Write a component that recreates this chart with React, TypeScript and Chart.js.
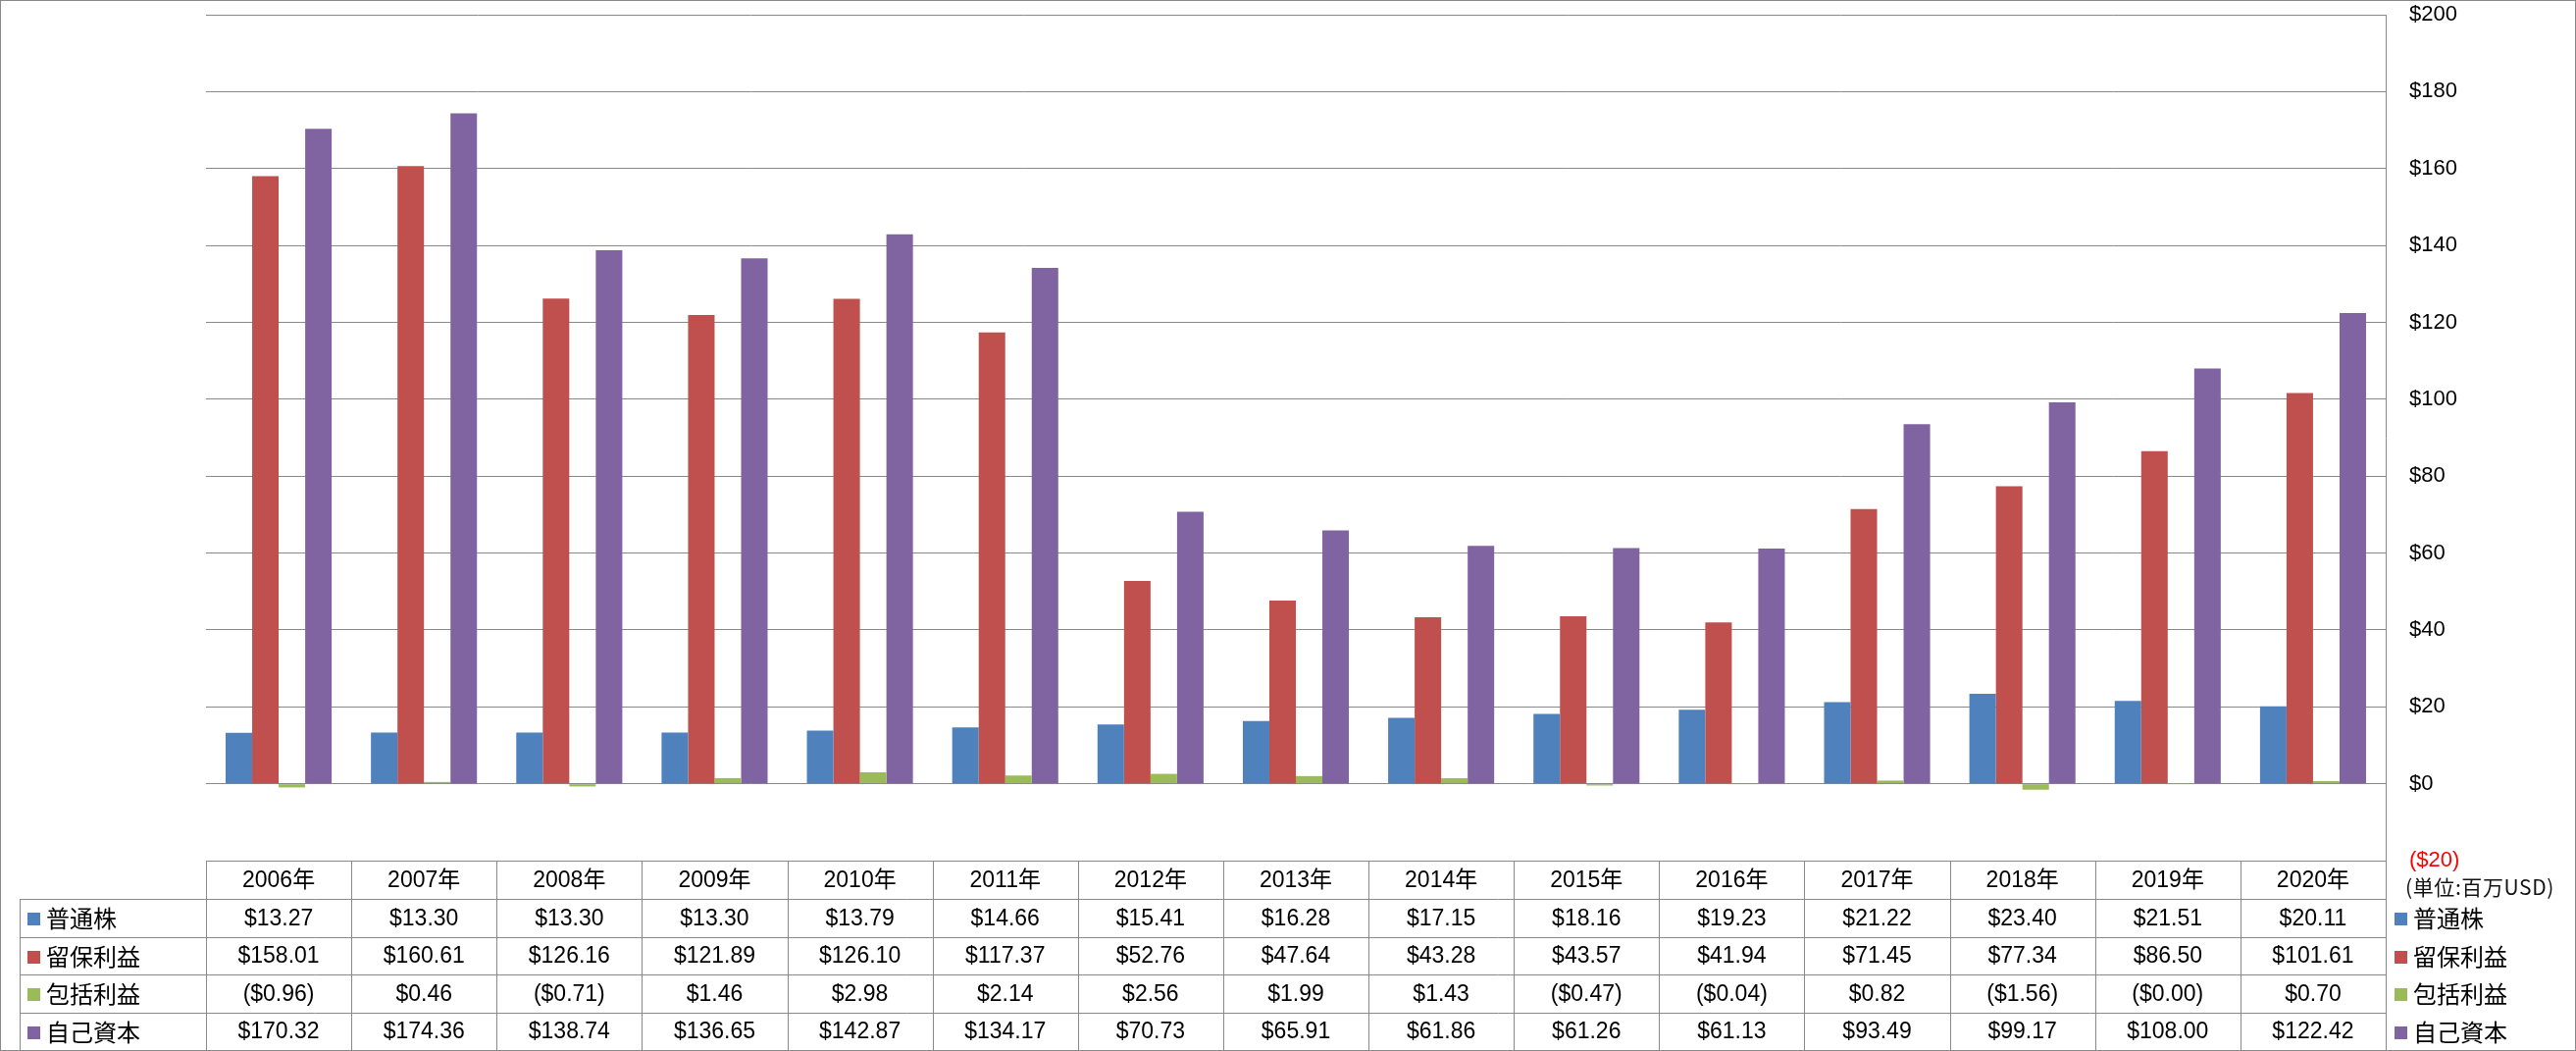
import React, { useEffect, useRef } from "react";
import { Chart, registerables } from "chart.js";

Chart.register(...registerables);

const W = 2626;
const H = 1071;

const years = ["2006年", "2007年", "2008年", "2009年", "2010年", "2011年", "2012年", "2013年", "2014年", "2015年", "2016年", "2017年", "2018年", "2019年", "2020年"];
const seriesNames = ["普通株", "留保利益", "包括利益", "自己資本"];
const seriesColors = ["#4F81BD", "#C0504D", "#9BBB59", "#8064A2"];

const commonStock = [13.27, 13.30, 13.30, 13.30, 13.79, 14.66, 15.41, 16.28, 17.15, 18.16, 19.23, 21.22, 23.40, 21.51, 20.11];
const retainedEarnings = [158.01, 160.61, 126.16, 121.89, 126.10, 117.37, 52.76, 47.64, 43.28, 43.57, 41.94, 71.45, 77.34, 86.50, 101.61];
const comprehensiveIncome = [-0.96, 0.46, -0.71, 1.46, 2.98, 2.14, 2.56, 1.99, 1.43, -0.47, -0.04, 0.82, -1.56, -0.004, 0.70];
const equity = [170.32, 174.36, 138.74, 136.65, 142.87, 134.17, 70.73, 65.91, 61.86, 61.26, 61.13, 93.49, 99.17, 108.00, 122.42];

const yMin = -20;
const yMax = 200;
const yStep = 20;
const unitLabel = "(単位:百万USD)";

const seriesValues = [commonStock, retainedEarnings, comprehensiveIncome, equity];

const GRID = "#898989";
const NUM_FONT = "'Liberation Sans', 'Noto Sans CJK JP', sans-serif";
const JP_FONT = "'Noto Sans CJK JP', 'Liberation Sans', sans-serif";

function fmtMoney(v: number): string {
  const s = Math.abs(v).toFixed(2);
  return v < 0 ? `($${s})` : `$${s}`;
}

const tablePlugin = {
  id: "dataTable",
  afterDraw(chart: any) {
    const ctx: CanvasRenderingContext2D = chart.ctx;
    const area = chart.chartArea;
    const n = years.length;
    const colW = (area.right - area.left) / n;
    const top = Math.round(area.bottom);
    const headerBottom = top + 39;
    const bottom = H - 1;
    const rowH = (bottom - headerBottom) / 4;
    const legendLeft = 20;
    const px = (v: number) => Math.round(v) + 0.5;

    ctx.save();
    ctx.strokeStyle = GRID;
    ctx.lineWidth = 1;
    ctx.beginPath();
    ctx.moveTo(area.left, px(top));
    ctx.lineTo(area.right, px(top));
    for (let r = 0; r < 4; r++) {
      const y = px(headerBottom + r * rowH);
      ctx.moveTo(legendLeft, y);
      ctx.lineTo(area.right, y);
    }
    for (let i = 0; i <= n; i++) {
      const x = px(area.left + i * colW);
      ctx.moveTo(x, top);
      ctx.lineTo(x, bottom);
    }
    ctx.moveTo(px(legendLeft), headerBottom);
    ctx.lineTo(px(legendLeft), bottom);
    ctx.stroke();

    ctx.strokeRect(0.5, 0.5, W - 1, H - 1);

    ctx.textBaseline = "middle";
    ctx.textAlign = "center";
    ctx.fillStyle = "#000";
    ctx.font = `23px ${NUM_FONT}`;
    for (let i = 0; i < n; i++) {
      const cx = area.left + (i + 0.5) * colW;
      ctx.fillText(years[i], cx, (top + headerBottom) / 2 + 1);
    }
    for (let r = 0; r < 4; r++) {
      const cy = headerBottom + (r + 0.5) * rowH + 1;
      for (let i = 0; i < n; i++) {
        const cx = area.left + (i + 0.5) * colW;
        ctx.fillText(fmtMoney(seriesValues[r][i]), cx, cy);
      }
    }

    ctx.textAlign = "left";
    ctx.font = `24px ${JP_FONT}`;
    for (let r = 0; r < 4; r++) {
      const cy = headerBottom + (r + 0.5) * rowH + 1;
      ctx.fillStyle = seriesColors[r];
      ctx.fillRect(28, Math.round(cy - 6), 13, 13);
      ctx.fillRect(2441, Math.round(cy - 6), 13, 13);
      ctx.fillStyle = "#000";
      ctx.fillText(seriesNames[r], 47, cy);
      ctx.fillText(seriesNames[r], 2460, cy);
    }

    ctx.font = `21px ${JP_FONT}`;
    (ctx as any).letterSpacing = "0.6px";
    ctx.fillStyle = "#111";
    ctx.fillText(unitLabel, 2452, 904);
    ctx.restore();
  },
};

export default function App() {
  const ref = useRef<HTMLCanvasElement | null>(null);

  useEffect(() => {
    if (!ref.current) return;
    const chart = new Chart(ref.current, {
      type: "bar",
      data: {
        labels: years,
        datasets: seriesNames.map((name, i) => ({
          label: name,
          data: seriesValues[i],
          backgroundColor: seriesColors[i],
          borderWidth: 0,
          categoryPercentage: 108 / 148,
          barPercentage: 1,
        })),
      },
      plugins: [tablePlugin],
      options: {
        animation: false,
        responsive: false,
        devicePixelRatio: 1,
        layout: { padding: { left: 210, top: 15, right: 0, bottom: 194 } },
        plugins: { legend: { display: false }, tooltip: { enabled: false } },
        scales: {
          x: { display: false },
          y: {
            position: "right",
            min: yMin,
            max: yMax,
            afterFit: (scale: any) => {
              scale.width = 194;
              scale.paddingTop = 0;
              scale.paddingBottom = 0;
            },
            grid: { color: GRID, lineWidth: 1, drawTicks: false },
            border: { display: true, color: GRID, width: 1 },
            ticks: {
              stepSize: yStep,
              padding: 24,
              font: { family: NUM_FONT, size: 22 },
              color: (c: any) => (c.tick && c.tick.value < 0 ? "#FF0000" : "#000000"),
              callback: (v: any) => (Number(v) < 0 ? `($${Math.abs(Number(v))})` : `$${v}`),
            },
          },
        },
      },
    });
    return () => chart.destroy();
  }, []);

  return (
    <div style={{ position: "fixed", left: 0, top: 0, width: W, height: H, background: "#fff" }}>
      <canvas ref={ref} width={W} height={H} style={{ display: "block", width: W, height: H }} />
    </div>
  );
}
